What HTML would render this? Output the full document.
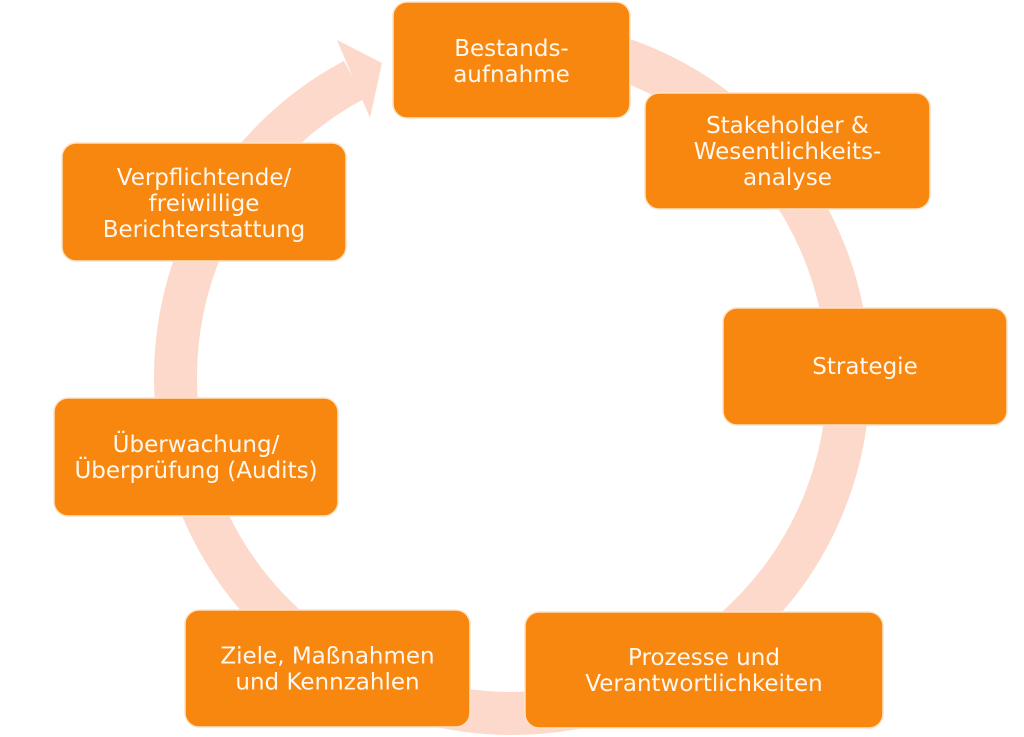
<!DOCTYPE html>
<html>
<head>
<meta charset="utf-8">
<style>
  html, body { margin:0; padding:0; background:#ffffff; }
  body { width:1024px; height:737px; overflow:hidden; }
  svg { display:block; }
  text { font-family: "DejaVu Sans", "Liberation Sans", sans-serif; font-size:23px; fill:#fff7ee; text-anchor:middle; }
</style>
</head>
<body>
<svg width="1024" height="737" viewBox="0 0 1024 737" xmlns="http://www.w3.org/2000/svg">
  <!-- cycle ring -->
  <path d="M 512 40.5 A 336.5 336.5 0 0 1 512 713.5 A 336.5 336.5 0 0 1 354 79.9"
        fill="none" stroke="#fcd9ca" stroke-width="43" stroke-linecap="butt"/>
  <!-- arrow head -->
  <polygon points="337,40 382,63 370,118" fill="#fcd9ca"/>

  <!-- boxes -->
  <g fill="#f7870f" stroke="#fde2c6" stroke-width="1.5">
    <rect x="393" y="2" width="237" height="116" rx="14" ry="14"/>
    <rect x="645" y="93" width="285" height="116" rx="14" ry="14"/>
    <rect x="723" y="308" width="284" height="117" rx="14" ry="14"/>
    <rect x="525" y="612" width="358" height="116" rx="14" ry="14"/>
    <rect x="185" y="610" width="285" height="117" rx="14" ry="14"/>
    <rect x="54" y="398" width="284" height="118" rx="14" ry="14"/>
    <rect x="62" y="143" width="284" height="118" rx="14" ry="14"/>
  </g>

  <!-- labels -->
  <text x="511.5" y="56">Bestands-</text>
  <text x="511.5" y="82">aufnahme</text>

  <text x="787.5" y="133">Stakeholder &amp;</text>
  <text x="787.5" y="159">Wesentlichkeits-</text>
  <text x="787.5" y="185">analyse</text>

  <text x="865" y="374">Strategie</text>

  <text x="704" y="665">Prozesse und</text>
  <text x="704" y="691">Verantwortlichkeiten</text>

  <text x="327.5" y="663.5">Ziele, Maßnahmen</text>
  <text x="327.5" y="689.5">und Kennzahlen</text>

  <text x="196" y="452">Überwachung/</text>
  <text x="196" y="478">Überprüfung (Audits)</text>

  <text x="204" y="185">Verpflichtende/</text>
  <text x="204" y="211">freiwillige</text>
  <text x="204" y="237">Berichterstattung</text>
</svg>
</body>
</html>
